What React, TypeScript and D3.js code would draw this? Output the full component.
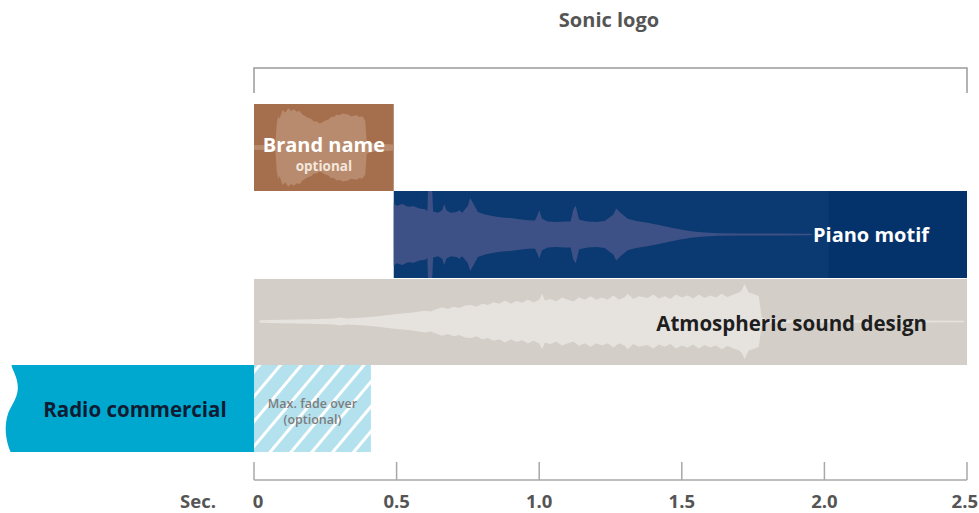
import React from "react";
import * as d3 from "d3";

// ---- data ----
const axisTicks = [0, 0.5, 1.0, 1.5, 2.0, 2.5];
const tickLabels = ["0", "0.5", "1.0", "1.5", "2.0", "2.5"];
const rows = ["brand", "piano", "atmos", "radio"];

const brandSpan = [0, 0.49];
const pianoSpan = [0.49, 2.5];
const pianoDarkStart = 2.015;
const atmosSpan = [0, 2.5];
const radioSpan = [-0.85, 0];
const fadeSpan = [0, 0.41];

// waveform envelopes: [seconds, amplitude as fraction of half bar height]
const brandWave: [number, number][] = [
  [0.0, 0.05], [0.06, 0.06], [0.075, 0.08], [0.08, 0.55], [0.085, 0.72], [0.09, 0.66],
  [0.1, 0.86], [0.11, 0.8], [0.12, 0.9], [0.13, 0.84], [0.14, 0.88], [0.15, 0.82],
  [0.16, 0.84], [0.17, 0.76], [0.18, 0.72], [0.19, 0.68], [0.2, 0.66], [0.21, 0.6],
  [0.22, 0.6], [0.23, 0.55], [0.24, 0.58], [0.25, 0.62], [0.26, 0.64], [0.27, 0.7],
  [0.28, 0.7], [0.29, 0.76], [0.3, 0.74], [0.31, 0.78], [0.33, 0.76], [0.34, 0.72],
  [0.36, 0.74], [0.37, 0.7], [0.38, 0.72], [0.39, 0.62], [0.395, 0.14], [0.42, 0.09],
  [0.49, 0.07],
];

const pianoWave: [number, number][] = [
  [0.49, 0.72], [0.5, 0.66], [0.52, 0.7], [0.54, 0.64], [0.56, 0.65], [0.58, 0.6],
  [0.6, 0.58], [0.608, 0.54], [0.61, 1.0], [0.625, 1.0], [0.628, 0.53], [0.645, 0.5],
  [0.66, 0.56], [0.667, 0.7], [0.675, 0.55], [0.69, 0.5], [0.71, 0.52], [0.72, 0.56],
  [0.73, 0.5], [0.75, 0.66], [0.758, 0.84], [0.77, 0.7], [0.785, 0.52], [0.81, 0.46],
  [0.84, 0.42], [0.87, 0.39], [0.9, 0.38], [0.93, 0.35], [0.96, 0.33], [0.985, 0.32],
  [0.995, 0.46], [1.0, 0.56], [1.01, 0.36], [1.03, 0.3], [1.06, 0.29], [1.09, 0.3],
  [1.11, 0.3], [1.12, 0.58], [1.128, 0.66], [1.14, 0.34], [1.17, 0.3], [1.2, 0.29],
  [1.23, 0.31], [1.26, 0.46], [1.27, 0.6], [1.285, 0.5], [1.31, 0.36], [1.34, 0.31],
  [1.38, 0.27], [1.42, 0.22], [1.46, 0.16], [1.5, 0.11], [1.54, 0.07], [1.58, 0.045],
  [1.63, 0.03], [1.7, 0.025], [1.85, 0.025], [1.95, 0.02], [1.96, 0.0],
];

const atmosWave: [number, number][] = [
  [0.02, 0.03], [0.1, 0.04], [0.2, 0.05], [0.28, 0.07], [0.3, 0.09], [0.33, 0.07],
  [0.4, 0.1], [0.45, 0.13], [0.5, 0.17], [0.55, 0.2], [0.6, 0.25], [0.62, 0.23],
  [0.64, 0.28], [0.66, 0.33], [0.68, 0.29], [0.7, 0.34], [0.72, 0.31], [0.74, 0.37],
  [0.76, 0.38], [0.78, 0.34], [0.8, 0.41], [0.82, 0.38], [0.84, 0.44], [0.86, 0.41],
  [0.88, 0.48], [0.9, 0.41], [0.92, 0.47], [0.94, 0.43], [0.96, 0.5], [0.98, 0.44],
  [1.0, 0.5], [1.01, 0.64], [1.02, 0.48], [1.04, 0.52], [1.06, 0.46], [1.08, 0.55],
  [1.1, 0.5], [1.12, 0.46], [1.14, 0.56], [1.16, 0.5], [1.18, 0.58], [1.2, 0.5],
  [1.22, 0.55], [1.24, 0.5], [1.26, 0.6], [1.28, 0.5], [1.3, 0.56], [1.31, 0.64],
  [1.33, 0.52], [1.35, 0.58], [1.38, 0.54], [1.4, 0.62], [1.42, 0.53], [1.44, 0.58],
  [1.46, 0.52], [1.48, 0.62], [1.5, 0.55], [1.52, 0.6], [1.54, 0.53], [1.56, 0.62],
  [1.58, 0.54], [1.6, 0.6], [1.62, 0.55], [1.64, 0.64], [1.66, 0.56], [1.68, 0.62],
  [1.7, 0.66], [1.71, 0.72], [1.72, 0.86], [1.735, 0.66], [1.75, 0.64], [1.77, 0.58],
  [1.78, 0.1], [1.8, 0.04], [2.0, 0.03], [2.3, 0.025], [2.49, 0.02],
];

// ---- layout ----
const W = 979;
const H = 513;
const x = d3.scaleLinear().domain([0, 2.5]).range([254, 967]);
const y = d3.scaleBand().domain(rows).range([104, 452]).paddingInner(0);
const axisY = 480;
const FONT = "'Open Sans', 'Noto Sans', sans-serif";

function wavePath(data: [number, number][], row: string, k = 1) {
  const top = y(row)!;
  const half = y.bandwidth() / 2;
  const cy = top + half;
  const area = d3
    .area<[number, number]>()
    .x((d) => x(d[0]))
    .y0((d) => cy + d[1] * half * k)
    .y1((d) => cy - d[1] * half * k)
    .curve(d3.curveLinear);
  return area(data) || "";
}

export default function App() {
  const bw = y.bandwidth();
  const rTop = y("radio")!;
  const rBot = rTop + bw;
  const rx0 = x(radioSpan[0]);
  const rx1 = x(radioSpan[1]);
  const radioPath = `M${rx0},${rTop} L${rx1},${rTop} L${rx1},${rBot} L${rx0 - 1},${rBot}
    C${rx0 - 6},${rBot - 12} ${rx0 - 8},${rBot - 26} ${rx0 - 3},${rBot - 40}
    C${rx0 + 3},${rBot - 52} ${rx0 + 9},${rTop + 28} ${rx0 + 5},${rTop + 14}
    C${rx0 + 3},${rTop + 7} ${rx0},${rTop + 3} ${rx0},${rTop} Z`;
  const last = axisTicks.length - 1;

  return (
    <svg width={W} height={H} style={{ display: "block", position: "absolute", left: 0, top: 0 }}>
      <defs>
        <pattern
          id="hatch"
          patternUnits="userSpaceOnUse"
          width={16}
          height={16}
          patternTransform="rotate(40)"
        >
          <rect x={0} y={0} width={16} height={16} fill="#b3e1ee" />
          <rect x={0} y={0} width={3} height={16} fill="#ffffff" />
        </pattern>
      </defs>

      {/* title + bracket */}
      <text x={609} y={27} textAnchor="middle" fontFamily={FONT} fontWeight={700} fontSize={20} fill="#555">
        Sonic logo
      </text>
      <path
        d={`M${x(0)},93 V68 H${x(2.5)} V93`}
        fill="none"
        stroke="#9a9a9a"
        strokeWidth={1.5}
      />

      {/* Brand name */}
      <rect
        x={x(brandSpan[0])}
        y={y("brand")!}
        width={x(brandSpan[1]) - x(brandSpan[0])}
        height={bw}
        fill="#a56f4e"
      />
      <path d={wavePath(brandWave, "brand")} fill="#b98b6e" />
      <text x={(x(brandSpan[0]) + x(brandSpan[1])) / 2} y={y("brand")! + 48} textAnchor="middle" fontFamily={FONT} fontWeight={700} fontSize={20} fill="#fff">
        Brand name
      </text>
      <text x={(x(brandSpan[0]) + x(brandSpan[1])) / 2} y={y("brand")! + 67} textAnchor="middle" fontFamily={FONT} fontWeight={700} fontSize={13.5} fill="#f3e6dc">
        optional
      </text>

      {/* Piano motif */}
      <rect
        x={x(pianoSpan[0])}
        y={y("piano")!}
        width={x(pianoSpan[1]) - x(pianoSpan[0])}
        height={bw}
        fill="#0a3a71"
      />
      <rect
        x={x(pianoDarkStart)}
        y={y("piano")!}
        width={x(pianoSpan[1]) - x(pianoDarkStart)}
        height={bw}
        fill="#04326a"
      />
      <path d={wavePath(pianoWave, "piano")} fill="#3e5186" />
      <text x={929} y={y("piano")! + bw / 2 + 7} textAnchor="end" fontFamily={FONT} fontWeight={700} fontSize={20} fill="#fff">
        Piano motif
      </text>

      {/* Atmospheric */}
      <rect
        x={x(atmosSpan[0])}
        y={y("atmos")! + 1}
        width={x(atmosSpan[1]) - x(atmosSpan[0])}
        height={bw - 1}
        fill="#d4cec8"
      />
      <path d={wavePath(atmosWave, "atmos")} fill="#e6e3df" />
      <text x={927} y={y("atmos")! + bw / 2 + 9} textAnchor="end" fontFamily={FONT} fontWeight={700} fontSize={20.5} fill="#1e1e1e">
        Atmospheric sound design
      </text>

      {/* Radio commercial */}
      <path d={radioPath} fill="#00a8cf" />
      <text x={135} y={rTop + bw / 2 + 8} textAnchor="middle" fontFamily={FONT} fontWeight={700} fontSize={20.5} fill="#0f1c33">
        Radio commercial
      </text>

      {/* fade over */}
      <rect
        x={x(fadeSpan[0])}
        y={rTop}
        width={x(fadeSpan[1]) - x(fadeSpan[0])}
        height={bw}
        fill="url(#hatch)"
      />
      <text x={(x(fadeSpan[0]) + x(fadeSpan[1])) / 2} y={rTop + 43} textAnchor="middle" fontFamily={FONT} fontWeight={600} fontSize={12.5} fill="#7d7d7d">
        Max. fade over
      </text>
      <text x={(x(fadeSpan[0]) + x(fadeSpan[1])) / 2} y={rTop + 59} textAnchor="middle" fontFamily={FONT} fontWeight={600} fontSize={12.5} fill="#7d7d7d">
        (optional)
      </text>

      {/* axis */}
      <line x1={x(0)} x2={x(2.5)} y1={axisY} y2={axisY} stroke="#a8a8a8" strokeWidth={1.5} />
      {axisTicks.map((t, i) => (
        <g key={t}>
          <line x1={x(t)} x2={x(t)} y1={axisY - 18} y2={axisY} stroke="#a8a8a8" strokeWidth={1.5} />
          <text
            x={i === 0 ? x(t) + 4 : i === last ? 978 : x(t)}
            y={axisY + 28}
            textAnchor={i === last ? "end" : "middle"}
            fontFamily={FONT}
            fontWeight={700}
            fontSize={18.5}
            fill="#555"
          >
            {tickLabels[i]}
          </text>
        </g>
      ))}
      <text x={216} y={axisY + 28} textAnchor="end" fontFamily={FONT} fontWeight={700} fontSize={18.5} fill="#555">
        Sec.
      </text>
    </svg>
  );
}
